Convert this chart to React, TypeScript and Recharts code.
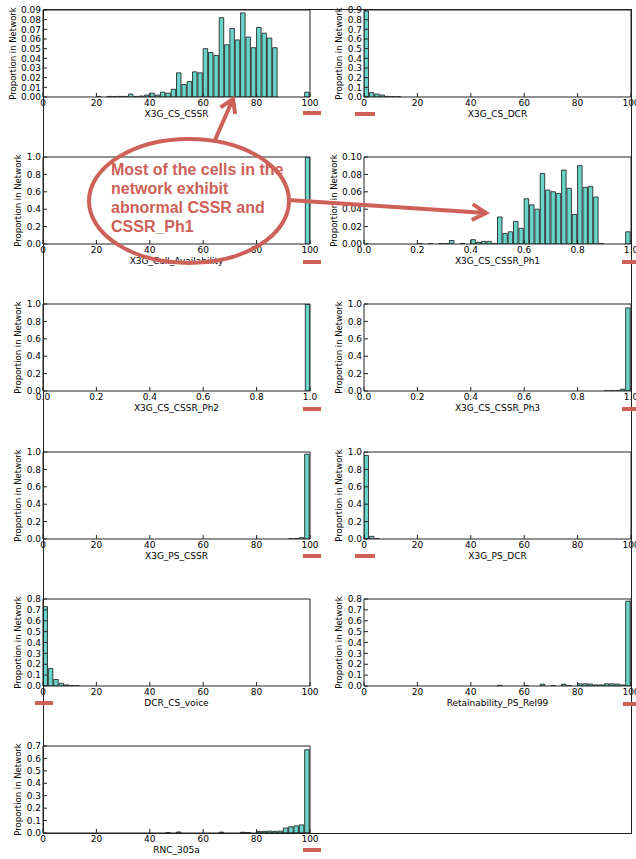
import React from 'react';
import { BarChart, Bar, XAxis, YAxis, Label } from 'recharts';

type Pt = [number, number];

// ---------- data: [bin centre, proportion in network] ----------
const csCssr: Pt[] = [
  [21, 0.0004], [25, 0.0006], [27, 0.0004], [29, 0.0006], [31, 0.0006], [33, 0.003], [35, 0.0006],
  [37, 0.001], [39, 0.002], [41, 0.004], [43, 0.002], [45, 0.005], [47, 0.004], [49, 0.008],
  [51, 0.025], [53, 0.013], [55, 0.016], [57, 0.026], [59, 0.025], [61, 0.05], [63, 0.046],
  [65, 0.043], [67, 0.082], [69, 0.054], [71, 0.071], [73, 0.059], [75, 0.087], [77, 0.062],
  [79, 0.051], [81, 0.072], [83, 0.066], [85, 0.061], [87, 0.051], [99, 0.005],
];
const csDcr: Pt[] = [[1, 0.89], [3, 0.045], [5, 0.03], [7, 0.02], [9, 0.006], [11, 0.004], [13, 0.003]];
const cellAvailability: Pt[] = [[99, 0.998]];
const cssrPh1: Pt[] = [
  [0.21, 0.0004], [0.25, 0.0004], [0.29, 0.0004], [0.31, 0.0005], [0.33, 0.004], [0.37, 0.0006],
  [0.41, 0.005], [0.43, 0.002], [0.45, 0.003], [0.47, 0.003], [0.49, 0.0006], [0.51, 0.031],
  [0.53, 0.012], [0.55, 0.014], [0.57, 0.026], [0.59, 0.018], [0.61, 0.052], [0.63, 0.045],
  [0.65, 0.04], [0.67, 0.081], [0.69, 0.062], [0.71, 0.06], [0.73, 0.058], [0.75, 0.085],
  [0.77, 0.064], [0.79, 0.034], [0.81, 0.09], [0.83, 0.065], [0.85, 0.066], [0.87, 0.054],
  [0.89, 0.0006], [0.99, 0.014],
];
const cssrPh2: Pt[] = [[0.99, 0.995]];
const cssrPh3: Pt[] = [[0.91, 0.002], [0.93, 0.002], [0.95, 0.003], [0.97, 0.02], [0.99, 0.955]];
const psCssr: Pt[] = [[93, 0.002], [95, 0.005], [97, 0.015], [99, 0.975]];
const psDcr: Pt[] = [[1, 0.96], [3, 0.03], [5, 0.005]];
const dcrCsVoice: Pt[] = [[1, 0.73], [3, 0.16], [5, 0.06], [7, 0.025], [9, 0.01], [11, 0.005], [13, 0.002]];
const retainabilityPsRel99: Pt[] = [
  [51, 0.006], [61, 0.002], [67, 0.017], [71, 0.003], [75, 0.016], [77, 0.003], [81, 0.02],
  [83, 0.02], [85, 0.018], [87, 0.01], [89, 0.01], [91, 0.02], [93, 0.02], [95, 0.018],
  [97, 0.01], [99, 0.78],
];
const rnc305a: Pt[] = [
  [47, 0.002], [51, 0.008], [67, 0.007], [75, 0.006], [77, 0.004], [81, 0.013], [83, 0.013],
  [85, 0.015], [87, 0.013], [89, 0.015], [91, 0.04], [93, 0.05], [95, 0.057], [97, 0.065], [99, 0.67],
];

// ---------- tick labels ----------
const pctTicks = [0, 20, 40, 60, 80, 100];
const ratioTicks = [0, 0.2, 0.4, 0.6, 0.8, 1.0];
const yTicks009 = [0, 0.01, 0.02, 0.03, 0.04, 0.05, 0.06, 0.07, 0.08, 0.09];
const yTicks09 = [0, 0.1, 0.2, 0.3, 0.4, 0.5, 0.6, 0.7, 0.8, 0.9];
const yTicks010 = [0, 0.02, 0.04, 0.06, 0.08, 0.1];
const yTicks10 = [0, 0.2, 0.4, 0.6, 0.8, 1.0];
const yTicks08 = [0, 0.1, 0.2, 0.3, 0.4, 0.5, 0.6, 0.7, 0.8];
const yTicks07 = [0, 0.1, 0.2, 0.3, 0.4, 0.5, 0.6, 0.7];

const annotationLines = ['Most of the cells in the', 'network exhibit', 'abnormal CSSR and', 'CSSR_Ph1'];
const Y_LABEL = 'Proportion in Network';

// ---------- styling ----------
const FONT = '"DejaVu Sans", Verdana, sans-serif';
const RED = '#cd6057';
const FILL = '#68d5ca';
const EDGE = '#2a2a2a';
const AXIS = '#222';

const PLOT_W = 267;
const PLOT_H = 87;
const Y_AX = 43;
const MT = 10;
const X_AX = 30;
const MR = 12;

interface HistProps {
  pts: Pt[];
  xMax: number;
  xTicks: number[];
  yMax: number;
  yTicks: number[];
  yDigits: number;
  xLabel: string;
  plotLeft: number;
  plotTop: number;
  tickW: number;
}

const tickStyle = { fontSize: 9, fill: '#000', fontFamily: FONT };

function Hist(p: HistProps) {
  const data = p.pts.map(([x, y]) => ({ x, y }));
  const xFmt = (v: number) => (p.xMax > 1 ? String(v) : v.toFixed(1));
  const yFmt = (v: number) => v.toFixed(p.yDigits);
  const barW = (PLOT_W / 50) * 0.84;
  return (
    <div style={{ position: 'absolute', left: p.plotLeft - Y_AX, top: p.plotTop - MT }}>
      <BarChart
        width={Y_AX + PLOT_W + MR}
        height={MT + PLOT_H + X_AX}
        data={data}
        margin={{ top: MT - 1, right: MR - 1, bottom: 0, left: 0 }}
        barSize={barW}
      >
        <XAxis
          xAxisId="b"
          dataKey="x"
          type="number"
          domain={[0, p.xMax]}
          allowDataOverflow
          ticks={p.xTicks}
          interval={0}
          height={X_AX}
          tickSize={-4}
          tickMargin={7}
          tick={tickStyle}
          tickFormatter={xFmt}
          axisLine={{ stroke: AXIS }}
          tickLine={{ stroke: AXIS }}
        >
          <Label
            content={(lp: any) => {
              const vb = lp.viewBox || {};
              return (
                <text
                  x={vb.x + vb.width / 2}
                  y={vb.y + 19.5}
                  textAnchor="middle"
                  fontSize={9}
                  fontFamily={FONT}
                  fill="#000"
                >
                  {p.xLabel}
                </text>
              );
            }}
          />
        </XAxis>
        <XAxis
          xAxisId="t"
          orientation="top"
          dataKey="x"
          type="number"
          domain={[0, p.xMax]}
          allowDataOverflow
          ticks={p.xTicks}
          interval={0}
          height={1}
          tickSize={-4}
          tick={false}
          axisLine={{ stroke: AXIS }}
          tickLine={{ stroke: AXIS }}
        />
        <YAxis
          yAxisId="l"
          type="number"
          domain={[0, p.yMax]}
          allowDataOverflow
          ticks={p.yTicks}
          interval={0}
          width={Y_AX}
          tickSize={-4}
          tickMargin={6}
          tick={tickStyle}
          tickFormatter={yFmt}
          axisLine={{ stroke: AXIS }}
          tickLine={{ stroke: AXIS }}
        >
          <Label
            content={(lp: any) => {
              const vb = lp.viewBox || {};
              const cx = Y_AX - 10 - p.tickW;
              const cy = vb.y + vb.height / 2;
              return (
                <text
                  x={cx}
                  y={cy}
                  transform={`rotate(-90, ${cx}, ${cy})`}
                  textAnchor="middle"
                  dominantBaseline="central"
                  fontSize={8.5}
                  fontFamily={FONT}
                  fill="#000"
                >
                  {Y_LABEL}
                </text>
              );
            }}
          />
        </YAxis>
        <YAxis
          yAxisId="r"
          orientation="right"
          type="number"
          domain={[0, p.yMax]}
          allowDataOverflow
          ticks={p.yTicks}
          interval={0}
          width={1}
          tickSize={-4}
          tick={false}
          axisLine={{ stroke: AXIS }}
          tickLine={{ stroke: AXIS }}
        />
        <Bar
          xAxisId="b"
          yAxisId="l"
          dataKey="y"
          fill={FILL}
          stroke={EDGE}
          strokeWidth={0.9}
          isAnimationActive={false}
        />
      </BarChart>
    </div>
  );
}

function arrowPath(x1: number, y1: number, x2: number, y2: number, len: number, angDeg: number) {
  const dx = x2 - x1;
  const dy = y2 - y1;
  const L = Math.hypot(dx, dy);
  const ux = dx / L;
  const uy = dy / L;
  const a = (angDeg * Math.PI) / 180;
  const w = (s: number) => {
    const rx = Math.cos(a) * ux - Math.sin(s * a) * uy;
    const ry = Math.sin(s * a) * ux + Math.cos(a) * uy;
    return [x2 - len * rx, y2 - len * ry];
  };
  const [w1x, w1y] = w(1);
  const [w2x, w2y] = w(-1);
  return `M${x1},${y1} L${x2},${y2} M${w1x},${w1y} L${x2},${y2} L${w2x},${w2y}`;
}

const L_COL = 43;
const R_COL = 364;
const ROWS = [9.5, 157, 304, 452, 599, 746];

const dashes: [number, number, number][] = [
  [303, 321, 113], [355, 375, 114],
  [303, 321, 262], [622, 636, 262],
  [303, 321, 409], [622, 636, 409],
  [303, 321, 556], [355, 375, 556],
  [35, 53, 703], [623, 636, 704],
  [303, 321, 850],
];

export default function App() {
  return (
    <div
      style={{
        position: 'absolute',
        left: 0,
        top: 0,
        width: 636,
        height: 859,
        overflow: 'hidden',
        background: '#fff',
      }}
    >
      <Hist pts={csCssr} xMax={100} xTicks={pctTicks} yMax={0.09} yTicks={yTicks009} yDigits={2}
        xLabel="X3G_CS_CSSR" plotLeft={L_COL} plotTop={ROWS[0]} tickW={20} />
      <Hist pts={csDcr} xMax={100} xTicks={pctTicks} yMax={0.9} yTicks={yTicks09} yDigits={1}
        xLabel="X3G_CS_DCR" plotLeft={R_COL} plotTop={ROWS[0]} tickW={15} />
      <Hist pts={cellAvailability} xMax={100} xTicks={pctTicks} yMax={1.0} yTicks={yTicks10} yDigits={1}
        xLabel="X3G_Cell_Availability" plotLeft={L_COL} plotTop={ROWS[1]} tickW={15} />
      <Hist pts={cssrPh1} xMax={1} xTicks={ratioTicks} yMax={0.1} yTicks={yTicks010} yDigits={2}
        xLabel="X3G_CS_CSSR_Ph1" plotLeft={R_COL} plotTop={ROWS[1]} tickW={20} />
      <Hist pts={cssrPh2} xMax={1} xTicks={ratioTicks} yMax={1.0} yTicks={yTicks10} yDigits={1}
        xLabel="X3G_CS_CSSR_Ph2" plotLeft={L_COL} plotTop={ROWS[2]} tickW={15} />
      <Hist pts={cssrPh3} xMax={1} xTicks={ratioTicks} yMax={1.0} yTicks={yTicks10} yDigits={1}
        xLabel="X3G_CS_CSSR_Ph3" plotLeft={R_COL} plotTop={ROWS[2]} tickW={15} />
      <Hist pts={psCssr} xMax={100} xTicks={pctTicks} yMax={1.0} yTicks={yTicks10} yDigits={1}
        xLabel="X3G_PS_CSSR" plotLeft={L_COL} plotTop={ROWS[3]} tickW={15} />
      <Hist pts={psDcr} xMax={100} xTicks={pctTicks} yMax={1.0} yTicks={yTicks10} yDigits={1}
        xLabel="X3G_PS_DCR" plotLeft={R_COL} plotTop={ROWS[3]} tickW={15} />
      <Hist pts={dcrCsVoice} xMax={100} xTicks={pctTicks} yMax={0.8} yTicks={yTicks08} yDigits={1}
        xLabel="DCR_CS_voice" plotLeft={L_COL} plotTop={ROWS[4]} tickW={15} />
      <Hist pts={retainabilityPsRel99} xMax={100} xTicks={pctTicks} yMax={0.8} yTicks={yTicks08} yDigits={1}
        xLabel="Retainability_PS_Rel99" plotLeft={R_COL} plotTop={ROWS[4]} tickW={15} />
      <Hist pts={rnc305a} xMax={100} xTicks={pctTicks} yMax={0.7} yTicks={yTicks07} yDigits={1}
        xLabel="RNC_305a" plotLeft={L_COL} plotTop={ROWS[5]} tickW={15} />

      <svg
        width={636}
        height={859}
        style={{ position: 'absolute', left: 0, top: 0, pointerEvents: 'none' }}
      >
        <rect x={43.5} y={9.5} width={588} height={824} fill="none" stroke={AXIS} strokeWidth={1} />
        {dashes.map(([x1, x2, y], i) => (
          <line key={i} x1={x1} x2={x2} y1={y} y2={y} stroke={RED} strokeWidth={4} />
        ))}
        <ellipse cx={189} cy={201} rx={100} ry={62} fill="none" stroke={RED} strokeWidth={4} />
        <path d={arrowPath(215, 140, 233, 99, 15, 32)} fill="none" stroke={RED} strokeWidth={4} />
        <path d={arrowPath(288, 200, 486, 213, 16, 30)} fill="none" stroke={RED} strokeWidth={4} />
        {annotationLines.map((t, i) => (
          <text
            key={t}
            x={111}
            y={175 + i * 19}
            fontSize={16}
            fontWeight="bold"
            fontFamily='"Liberation Sans", Arial, sans-serif'
            fill={RED}
          >
            {t}
          </text>
        ))}
      </svg>
    </div>
  );
}
